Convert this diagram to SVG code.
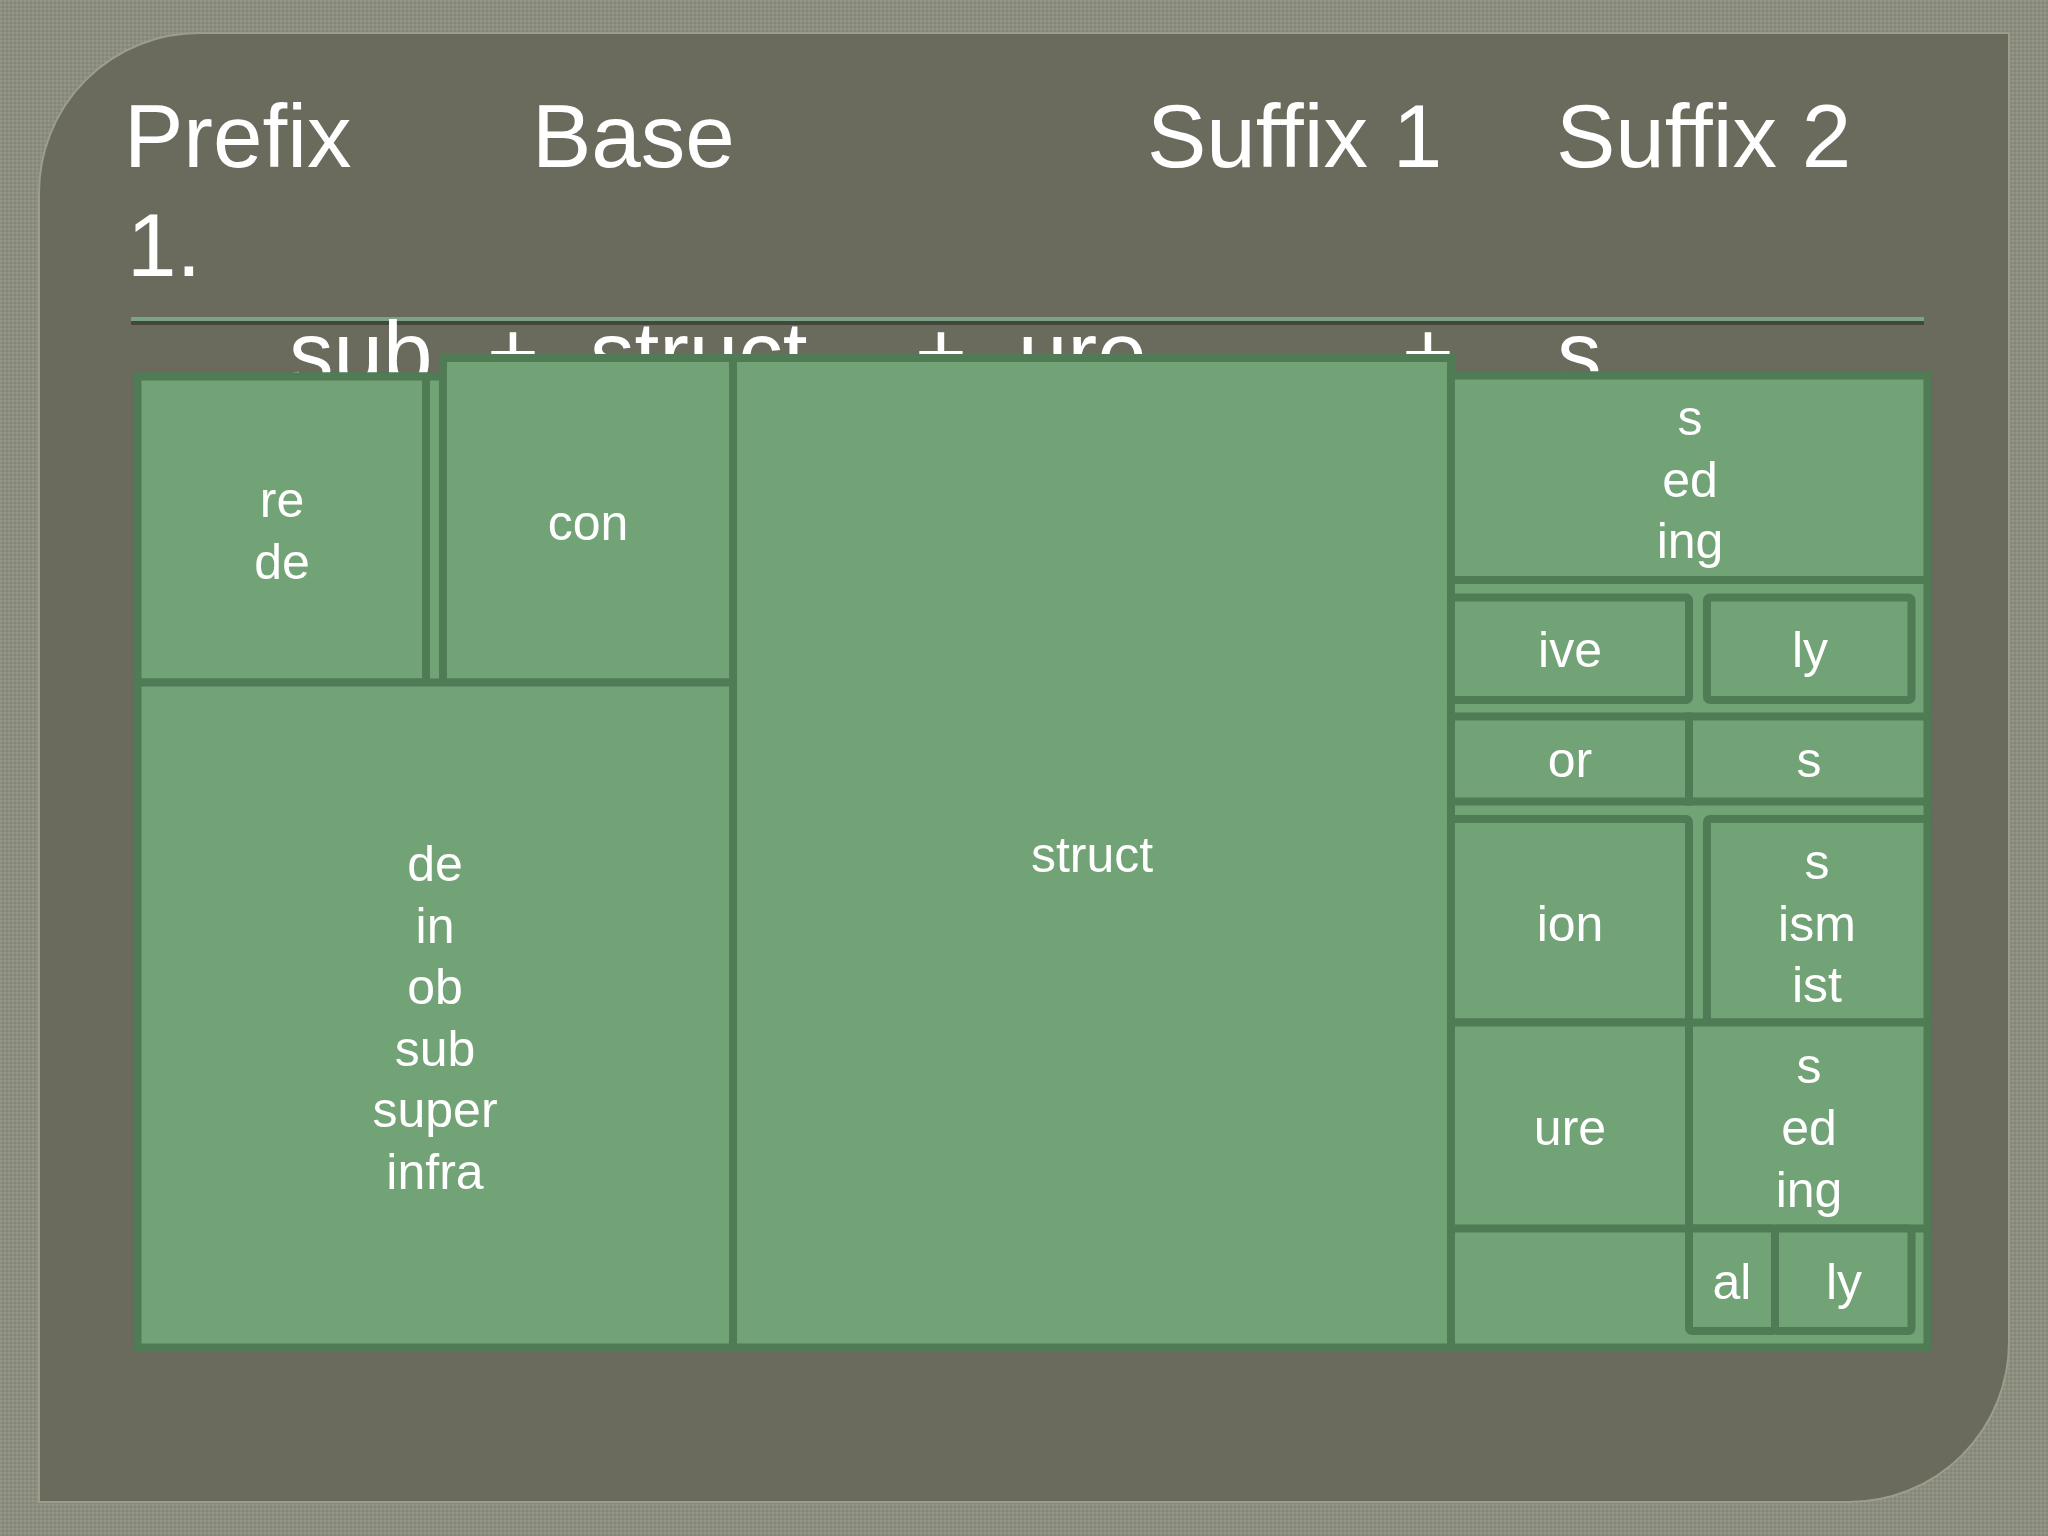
<svg xmlns="http://www.w3.org/2000/svg" width="2048" height="1536" viewBox="0 0 2048 1536">
  <defs>
    <pattern id="tex" x="0" y="0" width="4" height="4" patternUnits="userSpaceOnUse">
      <rect width="4" height="4" fill="#8b8d7e"/>
      <rect x="0" y="0" width="2" height="2" fill="#949687"/>
      <rect x="2" y="2" width="2" height="2" fill="#848677"/>
    </pattern>
    <style>
      .box { fill:#72a376; stroke:#4f7b55; stroke-width:8; }
      .lbl { font-family:"Liberation Sans", Arial, sans-serif; font-size:50px; fill:#ffffff; text-anchor:middle; }
      .title { font-family:"Liberation Sans", Arial, sans-serif; font-size:89px; fill:#ffffff; }
    </style>
  </defs>

  <!-- background -->
  <rect x="0" y="0" width="2048" height="1536" fill="url(#tex)"/>
  <path d="M 39,193 A 160 160 0 0 1 199,33 L 2009,33 L 2009,1342 A 160 160 0 0 1 1849,1502 L 39,1502 Z" fill="#6a6b5d" stroke="#9c9e8b" stroke-width="2"/>

  <!-- titles -->
  <g id="titles">
    <text class="title" x="124" y="167">Prefix</text>
    <text class="title" x="532" y="167">Base</text>
    <text class="title" x="1147" y="167">Suffix 1</text>
    <text class="title" x="1556" y="167">Suffix 2</text>
    <text class="title" x="127" y="276">1.</text>
  </g>

  <!-- rule -->
  <rect x="131" y="317" width="1793" height="4" fill="#79a486"/>
  <rect x="131" y="321" width="1793" height="4" fill="#46473c"/>

  <!-- formula line (partly hidden) -->
  <g id="formula">
    <text class="title" x="289" y="384">sub</text>
    <text class="title" x="487" y="384">+</text>
    <text class="title" x="590" y="384">struct</text>
    <text class="title" x="915" y="384">+</text>
    <text class="title" x="1018" y="384">ure</text>
    <text class="title" x="1402" y="384">+</text>
    <text class="title" x="1557" y="384">s</text>
  </g>

  <!-- prefix group -->
  <g id="prefix-group">
    <rect class="box" x="137.5" y="376.5" width="595.5" height="971"/>
  </g>
  <g id="node-re-de">
    <rect class="box" x="137.5" y="376.5" width="288.5" height="306"/>
    <text class="lbl" x="282" y="517">re</text>
    <text class="lbl" x="282" y="579">de</text>
  </g>
  <g id="node-con">
    <rect class="box" x="443" y="358" width="290" height="324.5"/>
    <text class="lbl" x="588" y="540">con</text>
  </g>
  <g id="node-de-in">
    <rect class="box" x="137.5" y="682.5" width="595.5" height="665"/>
    <text class="lbl" x="435" y="881">de</text>
    <text class="lbl" x="435" y="943">in</text>
    <text class="lbl" x="435" y="1004">ob</text>
    <text class="lbl" x="435" y="1066">sub</text>
    <text class="lbl" x="435" y="1127">super</text>
    <text class="lbl" x="435" y="1189">infra</text>
  </g>

  <!-- base -->
  <g id="node-struct">
    <rect class="box" x="733" y="358" width="718" height="989.5"/>
    <text class="lbl" x="1092" y="872">struct</text>
  </g>

  <!-- suffix group -->
  <g id="suffix-group">
    <rect class="box" x="1451" y="375.5" width="476.5" height="972"/>
  </g>
  <g id="node-s-ed-ing">
    <rect class="box" x="1451" y="375.5" width="476.5" height="204.5"/>
    <text class="lbl" x="1690" y="435">s</text>
    <text class="lbl" x="1690" y="497">ed</text>
    <text class="lbl" x="1690" y="558">ing</text>
  </g>
  <g id="node-ive">
    <rect class="box" x="1451" y="597.5" width="238" height="102.5" rx="3"/>
    <text class="lbl" x="1570" y="667">ive</text>
  </g>
  <g id="node-ly-1">
    <rect class="box" x="1707" y="597.5" width="204.5" height="102.5" rx="3"/>
    <text class="lbl" x="1810" y="667">ly</text>
  </g>
  <g id="node-or">
    <rect class="box" x="1451" y="716.5" width="238" height="85"/>
    <text class="lbl" x="1570" y="777">or</text>
  </g>
  <g id="node-s-1">
    <rect class="box" x="1689" y="716.5" width="238.5" height="85"/>
    <text class="lbl" x="1809" y="777">s</text>
  </g>
  <g id="node-ion">
    <rect class="box" x="1451" y="819" width="238" height="203.5" rx="3"/>
    <text class="lbl" x="1570" y="941">ion</text>
  </g>
  <g id="node-s-ism-ist">
    <rect class="box" x="1707" y="819" width="220.5" height="203.5" rx="3"/>
    <text class="lbl" x="1817" y="879">s</text>
    <text class="lbl" x="1817" y="941">ism</text>
    <text class="lbl" x="1817" y="1002">ist</text>
  </g>
  <g id="node-ure">
    <rect class="box" x="1451" y="1022.5" width="238" height="206"/>
    <text class="lbl" x="1570" y="1145">ure</text>
  </g>
  <g id="node-s-ed-ing-2">
    <rect class="box" x="1689" y="1022.5" width="238.5" height="206"/>
    <text class="lbl" x="1809" y="1083">s</text>
    <text class="lbl" x="1809" y="1145">ed</text>
    <text class="lbl" x="1809" y="1207">ing</text>
  </g>
  <g id="node-al">
    <rect class="box" x="1689" y="1228.5" width="86" height="102.5" rx="3"/>
    <text class="lbl" x="1732" y="1299">al</text>
  </g>
  <g id="node-ly-2">
    <rect class="box" x="1775" y="1228.5" width="136.5" height="102.5" rx="3"/>
    <text class="lbl" x="1844" y="1299">ly</text>
  </g>
</svg>
